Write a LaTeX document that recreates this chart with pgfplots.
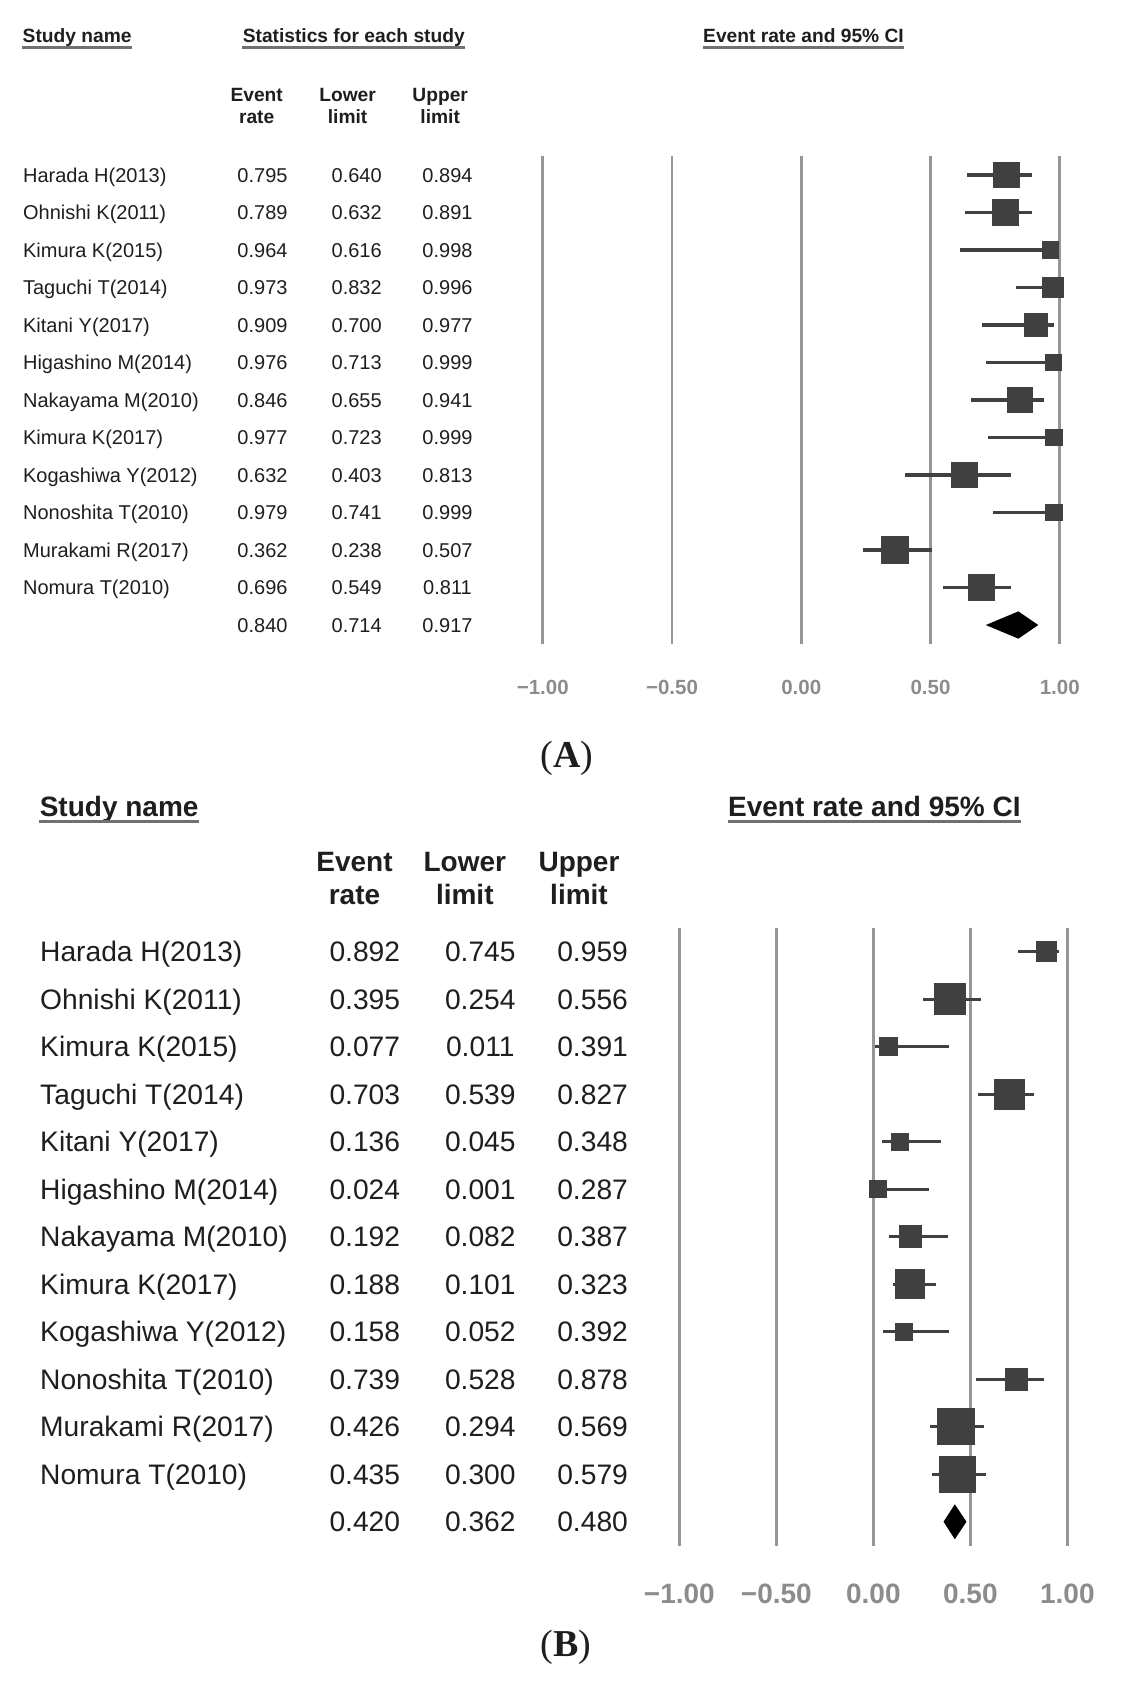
\documentclass[border=0pt]{standalone}
\usepackage{pgfplots}
\pgfplotsset{compat=1.18}
\usepackage{pgfplotstable}
\usepackage{fontspec}
\setmainfont{Liberation Sans}
\newfontfamily\serif{Liberation Serif}
\definecolor{sq}{HTML}{404040}
\definecolor{gridc}{HTML}{969696}
\definecolor{tickc}{HTML}{8C8C8C}
\definecolor{txt}{HTML}{1E1E1E}
\definecolor{ulc}{HTML}{707070}

\pgfplotstableread[col sep=comma]{
row,name,er,ll,ul,w
1,Harada H(2013),0.795,0.640,0.894,25.7
2,Ohnishi K(2011),0.789,0.632,0.891,25.7
3,Kimura K(2015),0.964,0.616,0.998,16.3
4,Taguchi T(2014),0.973,0.832,0.996,20.7
5,Kitani Y(2017),0.909,0.700,0.977,23.3
6,Higashino M(2014),0.976,0.713,0.999,16.7
7,Nakayama M(2010),0.846,0.655,0.941,24.7
8,Kimura K(2017),0.977,0.723,0.999,16.7
9,Kogashiwa Y(2012),0.632,0.403,0.813,25.3
10,Nonoshita T(2010),0.979,0.741,0.999,16.7
11,Murakami R(2017),0.362,0.238,0.507,27.3
12,Nomura T(2010),0.696,0.549,0.811,26.0
}\dataA

\pgfplotstableread[col sep=comma]{
row,name,er,ll,ul,w
1,Harada H(2013),0.892,0.745,0.959,20.0
2,Ohnishi K(2011),0.395,0.254,0.556,31.3
3,Kimura K(2015),0.077,0.011,0.391,17.7
4,Taguchi T(2014),0.703,0.539,0.827,29.7
5,Kitani Y(2017),0.136,0.045,0.348,17.3
6,Higashino M(2014),0.024,0.001,0.287,17.3
7,Nakayama M(2010),0.192,0.082,0.387,21.7
8,Kimura K(2017),0.188,0.101,0.323,28.7
9,Kogashiwa Y(2012),0.158,0.052,0.392,17.3
10,Nonoshita T(2010),0.739,0.528,0.878,21.7
11,Murakami R(2017),0.426,0.294,0.569,36.3
12,Nomura T(2010),0.435,0.300,0.579,35.7
}\dataB

\newcommand\fA{\fontsize{10bp}{12bp}\selectfont}
\newcommand\fAb{\fontsize{9.6bp}{11.5bp}\selectfont\bfseries}
\newcommand\fB{\fontsize{14.1bp}{17bp}\selectfont}
\newcommand\fBb{\fontsize{14bp}{17bp}\selectfont\bfseries}

\begin{document}
\begin{tikzpicture}[x=0.5bp,y=-0.5bp]
\path[use as bounding box] (0,0) rectangle (1127,1684);
\tikzset{every node/.style={inner sep=0pt, text=txt}}

% ---------------- Panel A text ----------------
\node[anchor=base west, font=\fAb] (hA1) at (22.3,42.7) {Study name};
\draw[ulc, line width=1.3bp] ([yshift=-2.5bp]hA1.base west) -- ([yshift=-2.5bp]hA1.base east);
\node[anchor=base west, font=\fAb] (hA2) at (242.4,42.7) {Statistics for each study};
\draw[ulc, line width=1.3bp] ([yshift=-2.5bp]hA2.base west) -- ([yshift=-2.5bp]hA2.base east);
\node[anchor=base west, font=\fAb] (hA3) at (702.8,42.7) {Event rate and 95\% CI};
\draw[ulc, line width=1.3bp] ([yshift=-2.5bp]hA3.base west) -- ([yshift=-2.5bp]hA3.base east);
\node[anchor=base, font=\fAb] at (256.7,101.7) {Event};
\node[anchor=base, font=\fAb] at (256.7,123.3) {rate};
\node[anchor=base, font=\fAb] at (347.6,101.7) {Lower};
\node[anchor=base, font=\fAb] at (347.6,123.3) {limit};
\node[anchor=base, font=\fAb] at (440.2,101.7) {Upper};
\node[anchor=base, font=\fAb] at (440.2,123.3) {limit};
\foreach \i in {0,...,11}{
  \pgfplotstablegetelem{\i}{name}\of\dataA \let\nm\pgfplotsretval
  \pgfplotstablegetelem{\i}{er}\of\dataA \let\ve\pgfplotsretval
  \pgfplotstablegetelem{\i}{ll}\of\dataA \let\vl\pgfplotsretval
  \pgfplotstablegetelem{\i}{ul}\of\dataA \let\vu\pgfplotsretval
  \pgfmathsetmacro\yy{175+37.5*\i+7.2}
  \node[anchor=base west, font=\fA] at (22.7,\yy) {\nm};
  \node[anchor=base, font=\fA] at (262.5,\yy) {\ve};
  \node[anchor=base, font=\fA] at (356.7,\yy) {\vl};
  \node[anchor=base, font=\fA] at (447.5,\yy) {\vu};
}
\node[anchor=base, font=\fA] at (262.5,632.2) {0.840};
\node[anchor=base, font=\fA] at (356.7,632.2) {0.714};
\node[anchor=base, font=\fA] at (447.5,632.2) {0.917};

\begin{axis}[
  at={(271.35bp,-321.875bp)}, anchor=south west,
  scale only axis, width=258.5bp, height=243.75bp,
  xmin=-1, xmax=1, ymin=0.5, ymax=13.5,
  clip=false,
  axis line style={draw=none},
  xtick={-1,-0.5,0,0.5,1},
  xticklabels={−1.00,−0.50,0.00,0.50,1.00},
  ytick=\empty,
  major tick length=0pt,
  xmajorgrids, grid style={gridc, line width=1.35bp},
  xticklabel style={font=\fontsize{10.25bp}{12bp}\selectfont\bfseries, text=tickc, anchor=center, yshift=-21.9bp, inner sep=0pt},
]
\addplot[scatter, only marks, mark=square*, color=sq,
  scatter/use mapped color={draw=sq, fill=sq},
  mark options={line width=0pt},
  visualization depends on={\thisrow{w}/4 \as \msz},
  scatter/@pre marker code/.append style={/tikz/mark size=\msz bp},
  error bars/.cd, x dir=both, x explicit, error mark=none,
  error bar style={line width=1.6bp, color=sq}]
  table[x=er, y expr=14-\thisrow{row}, x error plus expr=\thisrow{ul}-\thisrow{er}, x error minus expr=\thisrow{er}-\thisrow{ll}] {\dataA};
\addplot[fill=black, draw=none] coordinates {(0.714,1) (0.840,1.364) (0.917,1) (0.840,0.636)};
\end{axis}

\node[anchor=base, font=\serif\fontsize{19bp}{22bp}\selectfont] at (567,767) {(\textbf{A})};

% ---------------- Panel B text ----------------
\node[anchor=base west, font=\fBb] (hB1) at (39.4,816.7) {Study name};
\draw[ulc, line width=1.6bp] ([yshift=-2.3bp]hB1.base west) -- ([yshift=-2.3bp]hB1.base east);
\node[anchor=base west, font=\fBb] (hB3) at (727.7,816.7) {Event rate and 95\% CI};
\draw[ulc, line width=1.6bp] ([yshift=-2.3bp]hB3.base west) -- ([yshift=-2.3bp]hB3.base east);
\node[anchor=base, font=\fBb] at (354.5,871.7) {Event};
\node[anchor=base, font=\fBb] at (354.5,904) {rate};
\node[anchor=base, font=\fBb] at (464.8,871.7) {Lower};
\node[anchor=base, font=\fBb] at (464.8,904) {limit};
\node[anchor=base, font=\fBb] at (579,871.7) {Upper};
\node[anchor=base, font=\fBb] at (579,904) {limit};
\foreach \i in {0,...,11}{
  \pgfplotstablegetelem{\i}{name}\of\dataB \let\nm\pgfplotsretval
  \pgfplotstablegetelem{\i}{er}\of\dataB \let\ve\pgfplotsretval
  \pgfplotstablegetelem{\i}{ll}\of\dataB \let\vl\pgfplotsretval
  \pgfplotstablegetelem{\i}{ul}\of\dataB \let\vu\pgfplotsretval
  \pgfmathsetmacro\yy{951.7+47.5*\i+10.1}
  \node[anchor=base west, font=\fB] at (39.8,\yy) {\nm};
  \node[anchor=base, font=\fB] at (364.8,\yy) {\ve};
  \node[anchor=base, font=\fB] at (480.3,\yy) {\vl};
  \node[anchor=base, font=\fB] at (592.6,\yy) {\vu};
}
\node[anchor=base, font=\fB] at (364.8,1531.8) {0.420};
\node[anchor=base, font=\fB] at (480.3,1531.8) {0.362};
\node[anchor=base, font=\fB] at (592.6,1531.8) {0.480};

\begin{axis}[
  at={(339.65bp,-772.725bp)}, anchor=south west,
  scale only axis, width=194bp, height=308.75bp,
  xmin=-1, xmax=1, ymin=0.5, ymax=13.5,
  clip=false,
  axis line style={draw=none},
  xtick={-1,-0.5,0,0.5,1},
  xticklabels={−1.00,−0.50,0.00,0.50,1.00},
  ytick=\empty,
  major tick length=0pt,
  xmajorgrids, grid style={gridc, line width=1.35bp},
  xticklabel style={font=\fontsize{14bp}{17bp}\selectfont\bfseries, text=tickc, anchor=center, yshift=-24bp, inner sep=0pt},
]
\addplot[scatter, only marks, mark=square*, color=sq,
  scatter/use mapped color={draw=sq, fill=sq},
  mark options={line width=0pt},
  visualization depends on={\thisrow{w}/4 \as \msz},
  scatter/@pre marker code/.append style={/tikz/mark size=\msz bp},
  error bars/.cd, x dir=both, x explicit, error mark=none,
  error bar style={line width=1.6bp, color=sq}]
  table[x=er, y expr=14-\thisrow{row}, x error plus expr=\thisrow{ul}-\thisrow{er}, x error minus expr=\thisrow{er}-\thisrow{ll}] {\dataB};
\addplot[fill=black, draw=none] coordinates {(0.362,1) (0.420,1.368) (0.480,1) (0.420,0.632)};
\end{axis}

\node[anchor=base, font=\serif\fontsize{19bp}{22bp}\selectfont] at (566,1656) {(\textbf{B})};
\end{tikzpicture}
\end{document}
